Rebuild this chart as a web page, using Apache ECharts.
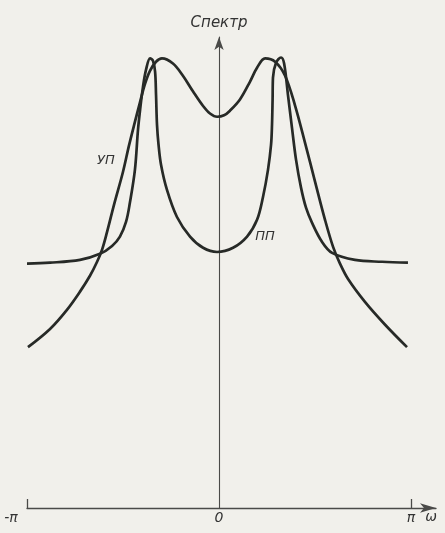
<!DOCTYPE html>
<html>
<head>
<meta charset="utf-8">
<script src="https://cdn.jsdelivr.net/npm/echarts@6/dist/echarts.min.js"></script>
<style>
  html, body { margin: 0; padding: 0; background: #f1f0eb; }
  #chart { width: 445px; height: 533px; }
</style>
</head>
<body>
<div id="chart"></div>
<script>
// Спектр: две кривые, частота в долях π

// УП — широкие пики, спад к краям
const omegaUP = [-0.995, -0.880, -0.792, -0.724, -0.672, -0.635, -0.609, -0.583, -0.547, -0.500,
  -0.469, -0.438, -0.411, -0.385, -0.359, -0.328, -0.297, -0.240, -0.188, -0.135,
  -0.083, -0.047, -0.010, 0.026, 0.057, 0.109, 0.161, 0.198, 0.240, 0.292,
  0.344, 0.396, 0.448, 0.500, 0.552, 0.594, 0.630, 0.672, 0.760, 0.865,
  0.979];
const specUP = [34.5, 38.4, 42.5, 46.4, 49.8, 52.8, 55.4, 59.2, 65.0, 72.1,
  77.7, 82.8, 87.1, 91.0, 93.8, 95.7, 96.4, 95.3, 92.7, 89.3,
  86.2, 84.6, 83.9, 84.2, 85.2, 87.6, 91.4, 94.4, 96.4, 95.7,
  92.7, 86.3, 78.3, 70.0, 61.8, 56.0, 52.4, 49.1, 44.2, 39.3,
  34.5];

// ПП — узкие пики, глубокий провал в центре
const omegaPP = [-1.000, -0.880, -0.724, -0.620, -0.557, -0.516, -0.484, -0.464, -0.438, -0.422,
  -0.411, -0.396, -0.380, -0.359, -0.344, -0.333, -0.328, -0.323, -0.315, -0.302,
  -0.271, -0.219, -0.151, -0.083, -0.010, 0.073, 0.146, 0.198, 0.229, 0.255,
  0.271, 0.276, 0.279, 0.281, 0.297, 0.323, 0.339, 0.359, 0.380, 0.401,
  0.427, 0.453, 0.484, 0.536, 0.589, 0.708, 0.849, 0.984];
const specPP = [52.4, 52.6, 53.2, 54.5, 56.2, 58.2, 61.4, 65.5, 72.5, 81.1,
  85.4, 90.3, 94.0, 96.4, 95.9, 93.6, 88.6, 82.2, 77.9, 73.6,
  68.2, 62.4, 58.2, 55.8, 54.9, 55.8, 58.2, 61.8, 66.7, 72.5,
  77.9, 82.2, 87.6, 92.3, 95.5, 96.6, 95.3, 88.6, 81.5, 74.7,
  68.7, 64.4, 61.2, 57.1, 54.7, 53.2, 52.8, 52.6];

// подписи оси частот
const xTickValues = [-1, 0, 1];
const xTickLabels = ['-π', '0', 'π'];

const INK = '#272a27';
const AXIS = '#4a4a48';
const TEXT = {
  color: '#333',
  fontFamily: 'DejaVu Sans',
  fontStyle: 'italic'
};

function pairs(xs, ys) {
  return xs.map((x, i) => [x, ys[i]]);
}

const chart = echarts.init(document.getElementById('chart'));

chart.setOption({
  animation: false,
  backgroundColor: '#f1f0eb',
  grid: { left: 27, right: 9, top: 37, bottom: 25 },
  xAxis: {
    type: 'value',
    min: -1,
    max: 1.13,
    interval: 1,
    name: 'ω',
    nameLocation: 'end',
    nameGap: -5,
    nameTextStyle: Object.assign({}, TEXT, {
      fontSize: 14,
      align: 'center',
      verticalAlign: 'top',
      padding: [2, 0, 0, 0]
    }),
    axisLine: {
      onZero: false,
      symbol: ['none', 'arrow'],
      symbolSize: [7, 16],
      lineStyle: { color: AXIS, width: 1.3 }
    },
    axisTick: {
      show: true,
      inside: true,
      length: 9,
      customValues: [-1, 1],
      lineStyle: { color: AXIS, width: 1.3 }
    },
    axisLabel: Object.assign({}, TEXT, {
      customValues: xTickValues,
      margin: 3,
      fontSize: 14,
      formatter: function (v) {
        const i = xTickValues.indexOf(v);
        if (i === 0) return '{m|' + xTickLabels[i] + '}';
        return i >= 0 ? xTickLabels[i] : '';
      },
      rich: {
        m: Object.assign({}, TEXT, { fontSize: 14, padding: [0, 32, 0, 0] })
      }
    }),
    splitLine: { show: false }
  },
  yAxis: {
    type: 'value',
    min: 0,
    max: 101,
    name: 'Спектр',
    nameLocation: 'end',
    nameGap: 6,
    nameTextStyle: Object.assign({}, TEXT, { fontSize: 15 }),
    axisLine: {
      show: true,
      onZero: true,
      symbol: ['none', 'arrow'],
      symbolSize: [7, 13],
      lineStyle: { color: AXIS, width: 1.1 }
    },
    axisTick: { show: false },
    axisLabel: { show: false },
    splitLine: { show: false }
  },
  series: [
    {
      name: 'УП',
      type: 'line',
      data: pairs(omegaUP, specUP),
      showSymbol: false,
      smooth: 0.35,
      lineStyle: { color: INK, width: 2.7 },
      markPoint: {
        symbol: 'circle',
        symbolSize: 0,
        label: Object.assign({ show: true, formatter: 'УП', fontSize: 13 }, TEXT),
        data: [{ coord: [-0.589, 74.5] }]
      }
    },
    {
      name: 'ПП',
      type: 'line',
      data: pairs(omegaPP, specPP),
      showSymbol: false,
      smooth: 0.35,
      lineStyle: { color: INK, width: 2.7 },
      markPoint: {
        symbol: 'circle',
        symbolSize: 0,
        label: Object.assign({ show: true, formatter: 'ПП', fontSize: 13 }, TEXT),
        data: [{ coord: [0.24, 58.2] }]
      }
    }
  ]
});
</script>
</body>
</html>
